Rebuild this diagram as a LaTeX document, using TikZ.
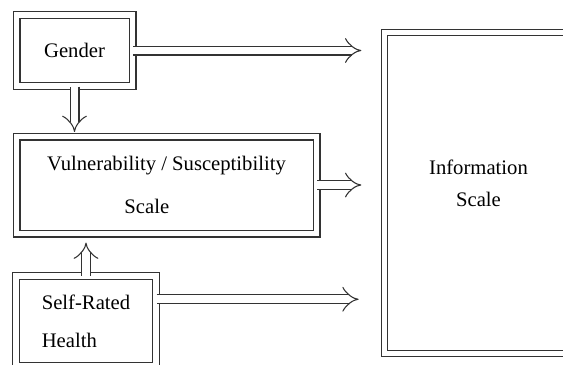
\documentclass[tikz,border=0pt]{standalone}
\usepackage{fontspec}
\setmainfont{Liberation Serif}
\usetikzlibrary{arrows.meta}
\definecolor{ink}{HTML}{333333}
\tikzset{
  frame/.style={draw=ink,double,double distance=4.4pt,line width=.8pt,
    inner sep=0pt,font=\fontsize{15.5}{18}\selectfont},
  link/.style={draw=ink,double,double distance=5.9pt,line width=.8pt,
    -{Implies[length=7pt,width=16pt]}},
}
\begin{document}
\begin{tikzpicture}[x=.75pt,y=-.75pt]
\useasboundingbox (0,0) rectangle (563,364);
\clip (0,0) rectangle (563,364);

\node[frame,minimum width=87pt,minimum height=53.25pt] (gender) at (74.5,50.5)
  {Gender};
\node[frame,minimum width=225pt,minimum height=72.75pt,align=left] (vuln) at (166.5,185)
  {Vulnerability / Susceptibility\\[14pt]\hspace*{58pt}Scale};
\node[frame,minimum width=105pt,minimum height=67pt,align=left] (health) at (86,321)
  {Self-Rated\\[10.5pt]Health};
\node[frame,double distance=3.4pt,minimum width=141pt,minimum height=240.75pt,
  align=center,text depth=15pt] (info) at (478.5,193)
  {Information\\[6pt]Scale};

\coordinate (hr) at ([yshift=-17.6pt]health.north east);
\draw[link,shorten >=17pt] (gender.east) -- (gender.east -| info.west);
\draw[link,shorten >=17pt] (vuln.east) -- (vuln.east -| info.west);
\draw[link,shorten >=19pt] (hr) -- (hr -| info.west);
\draw[link,shorten >=3pt] (gender.south) -- (gender.south |- vuln.north);
\draw[link,shorten >=6.4pt] (health.north) -- (health.north |- vuln.south);
\end{tikzpicture}
\end{document}
